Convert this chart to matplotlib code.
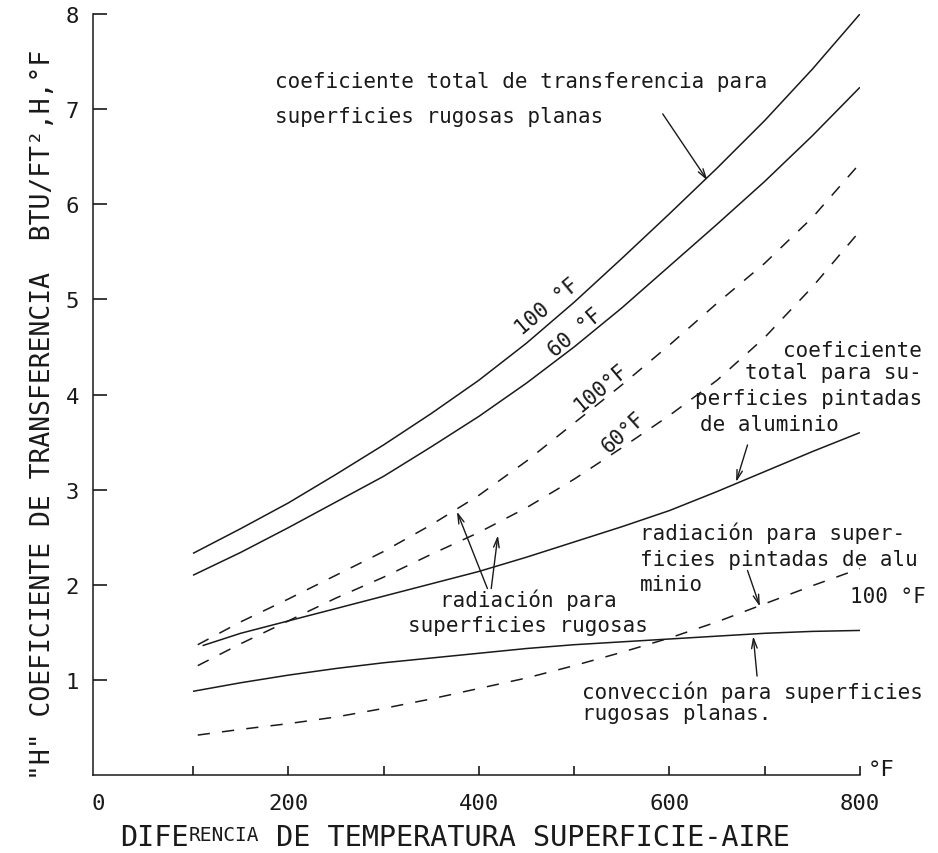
import numpy as np
import matplotlib.pyplot as plt

MONO = 'DejaVu Sans Mono'
INK = '#1a1a1a'

# temperature difference surface-air (F)
x_main = [100, 150, 200, 250, 300, 350, 400, 450, 500, 550, 600, 650, 700, 750, 800]
x_dash = [105, 150, 200, 250, 300, 350, 400, 450, 500, 550, 600, 650, 700, 750, 800]
x_alum = [110, 150, 200, 250, 300, 350, 400, 450, 500, 550, 600, 650, 700, 750, 800]

# total coefficient, rough flat surfaces (solid)
total_100 = [2.33, 2.59, 2.86, 3.16, 3.47, 3.80, 4.15, 4.54, 4.97, 5.43, 5.90, 6.38, 6.88, 7.42, 8.00]
total_60 = [2.10, 2.34, 2.60, 2.87, 3.14, 3.45, 3.77, 4.12, 4.50, 4.91, 5.35, 5.79, 6.24, 6.72, 7.23]
# radiation, rough surfaces (dashed)
rad_100 = [1.37, 1.61, 1.85, 2.10, 2.35, 2.63, 2.94, 3.30, 3.70, 4.10, 4.52, 4.96, 5.38, 5.86, 6.43]
rad_60 = [1.15, 1.38, 1.62, 1.86, 2.08, 2.32, 2.55, 2.81, 3.11, 3.44, 3.78, 4.15, 4.60, 5.13, 5.72]
# total coefficient, aluminium painted (solid)
total_alum = [1.36, 1.49, 1.62, 1.75, 1.88, 2.01, 2.14, 2.29, 2.45, 2.61, 2.78, 2.98, 3.19, 3.40, 3.60]
# convection, rough flat surfaces (solid)
conv = [0.88, 0.97, 1.05, 1.12, 1.18, 1.23, 1.28, 1.33, 1.37, 1.40, 1.43, 1.46, 1.49, 1.51, 1.52]
# radiation, aluminium painted 100 F (dashed)
rad_alum = [0.42, 0.48, 0.54, 0.61, 0.70, 0.80, 0.91, 1.02, 1.15, 1.29, 1.44, 1.61, 1.80, 1.99, 2.17]

x_ticks = [0, 100, 200, 300, 400, 500, 600, 700, 800]
x_tick_labels = ['0', '', '200', '', '400', '', '600', '', '800']
y_ticks = [1, 2, 3, 4, 5, 6, 7, 8]


def main():
    fig = plt.figure(figsize=(9.38, 8.54), dpi=100)
    ax = fig.add_axes([0.0991, 0.0913, 0.8177, 0.8911])

    solid = dict(color=INK, lw=1.1, solid_capstyle='butt')
    dashed = dict(color=INK, lw=1.1, linestyle=(0, (8, 8)))
    ax.plot(x_main, total_100, **solid)
    ax.plot(x_main, total_60, **solid)
    ax.plot(x_alum, total_alum, **solid)
    ax.plot(x_main, conv, **solid)
    ax.plot(x_dash, rad_100, **dashed)
    ax.plot(x_dash, rad_60, **dashed)
    ax.plot(x_dash, rad_alum, **dashed)

    ax.set_xlim(-5, 800)
    ax.set_ylim(0, 8)
    for side in ['top', 'right']:
        ax.spines[side].set_visible(False)
    for side in ['left', 'bottom']:
        ax.spines[side].set_linewidth(1.1)
        ax.spines[side].set_color(INK)

    ax.set_xticks(x_ticks)
    ax.set_xticklabels(x_tick_labels, family=MONO, fontsize=16, color=INK)
    ax.set_yticks(y_ticks)
    ax.set_yticklabels([str(v) for v in y_ticks], family=MONO, fontsize=16, color=INK)
    ax.tick_params(axis='x', direction='in', length=6.5, width=1.2, pad=13, color=INK)
    ax.tick_params(axis='y', direction='in', length=10, width=1.2, pad=10, color=INK)
    ax.xaxis.get_major_ticks()[0].tick1line.set_visible(False)

    ax.text(808, 0.0, '°F', family=MONO, fontsize=16, color=INK, va='baseline', ha='left')

    # axis titles
    fig.text(0.046, 0.514, '"H" COEFICIENTE DE TRANSFERENCIA  BTU/FT²,H,°F',
             rotation=90, family=MONO, fontsize=19, color=INK, ha='center', va='center')
    t1 = fig.text(0.128, 0.0094, 'DIFE', family=MONO, fontsize=20.5, color=INK,
                  ha='left', va='baseline')
    t2 = ax.annotate('RENCIA', xy=(1, 0.92), xycoords=t1, family=MONO, fontsize=14,
                     color=INK, ha='left', va='top')
    ax.annotate(' DE TEMPERATURA SUPERFICIE-AIRE', xy=(1, 0), xycoords=(t2, t1),
                family=MONO, fontsize=20.5, color=INK, ha='left', va='bottom')

    txt = dict(family=MONO, fontsize=15, color=INK)
    arrow = dict(arrowstyle='->,head_length=0.7,head_width=0.2', lw=1.0, color=INK,
                 shrinkA=0, shrinkB=0)

    # total coefficient, rough surfaces
    ax.text(186, 7.23, 'coeficiente total de transferencia para', va='baseline', **txt)
    ax.text(186, 6.87, 'superficies rugosas planas', va='baseline', **txt)
    ax.annotate('', xy=(640, 6.25), xytext=(593, 6.95), arrowprops=arrow)

    # curve labels along lines
    ax.text(472, 4.93, '100 °F', rotation=40, ha='center', va='center',
            rotation_mode='anchor', **txt)
    ax.text(501, 4.66, '60 °F', rotation=40, ha='center', va='center',
            rotation_mode='anchor', **txt)
    ax.text(528, 4.08, '100°F', rotation=40, ha='center', va='center',
            rotation_mode='anchor', **txt)
    ax.text(552, 3.61, '60°F', rotation=42, ha='center', va='center',
            rotation_mode='anchor', **txt)

    # total coefficient, aluminium
    ax.text(865, 4.41, 'coeficiente', ha='right', va='baseline', clip_on=False, **txt)
    ax.text(865, 4.17, 'total para su-', ha='right', va='baseline', clip_on=False, **txt)
    ax.text(865, 3.90, 'perficies pintadas', ha='right', va='baseline', clip_on=False, **txt)
    ax.text(632, 3.63, 'de aluminio', ha='left', va='baseline', **txt)
    ax.annotate('', xy=(670, 3.08), xytext=(682, 3.47), arrowprops=arrow)

    # radiation, aluminium
    ax.text(569, 2.48, 'radiación para super-', va='baseline', **txt)
    ax.text(569, 2.21, 'ficies pintadas de alu', va='baseline', **txt)
    ax.text(569, 1.95, 'minio', va='baseline', **txt)
    ax.text(790, 1.88, '100 °F', ha='left', va='center', **txt)
    ax.annotate('', xy=(695, 1.77), xytext=(682, 2.15), arrowprops=arrow)

    # radiation, rough surfaces
    ax.text(452, 1.78, 'radiación para', ha='center', va='baseline', **txt)
    ax.text(452, 1.51, 'superficies rugosas', ha='center', va='baseline', **txt)
    ax.annotate('', xy=(377, 2.77), xytext=(409, 1.96), arrowprops=arrow)
    ax.annotate('', xy=(420, 2.52), xytext=(413, 1.96), arrowprops=arrow)

    # convection
    ax.text(508, 0.81, 'convección para superficies', va='baseline', **txt)
    ax.text(508, 0.59, 'rugosas planas.', va='baseline', **txt)
    ax.annotate('', xy=(688, 1.46), xytext=(692, 1.04), arrowprops=arrow)

    fig.savefig('out.png', dpi=100, facecolor='white')


if __name__ == '__main__':
    main()
